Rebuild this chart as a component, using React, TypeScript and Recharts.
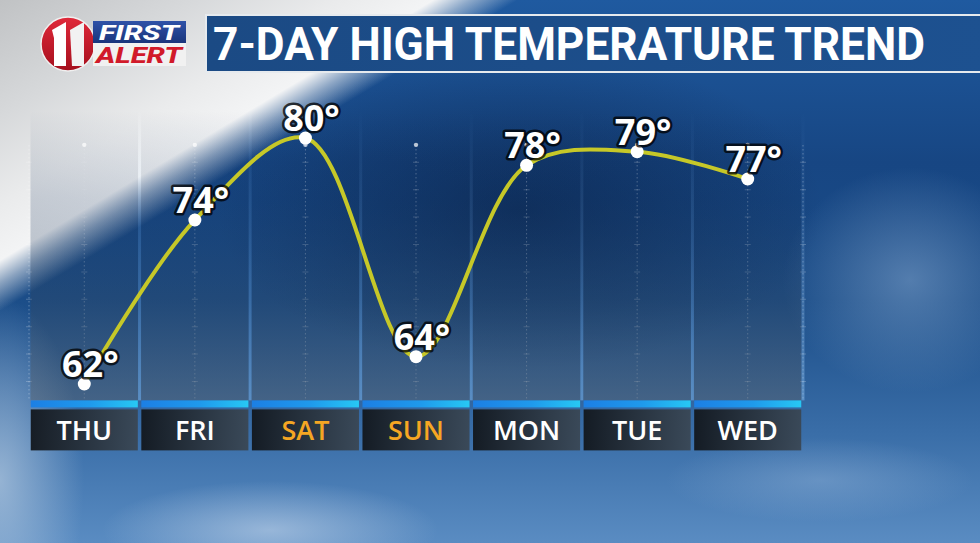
import React from 'react'
import {
  CartesianGrid, ComposedChart, LabelList, Line, ReferenceArea, ReferenceDot, XAxis, YAxis,
} from 'recharts'

const days = ['THU', 'FRI', 'SAT', 'SUN', 'MON', 'TUE', 'WED']
const highs = [62, 74, 80, 64, 78, 79, 77]
const weekendDays = ['SAT', 'SUN']
const yDomain = [60.8, 82]
const gridTopValue = 79.5

const data = days.map((d, i) => ({ day: d, high: highs[i] }))

const W = 980
const H = 543
const PLOT_LEFT = 29
const PLOT_RIGHT = 177
const BAND = (W - PLOT_LEFT - PLOT_RIGHT) / days.length

const BG = [
  'radial-gradient(ellipse 120px 260px at 0px 480px, rgba(175,198,222,0.75), rgba(175,198,222,0) 70%)',
  'radial-gradient(ellipse 240px 70px at 270px 530px, rgba(205,220,238,0.55), rgba(205,220,238,0) 70%)',
  'radial-gradient(ellipse 170px 150px at 910px 280px, rgba(130,165,205,0.55), rgba(130,165,205,0) 75%)',
  'radial-gradient(ellipse 220px 60px at 820px 480px, rgba(150,182,218,0.4), rgba(150,182,218,0) 70%)',
  'linear-gradient(149deg, #c0c2c4 0%, #d6d8da 10%, #eaebec 18%, #f3f4f5 23%, rgba(215,222,230,0.6) 25%, rgba(40,80,140,0) 27.5%)',
  'radial-gradient(ellipse 380px 200px at 520px 210px, rgba(8,28,62,0.55), rgba(8,28,62,0) 80%)',
  'linear-gradient(180deg, #1f5aa0 0%, #174683 30%, #1b4d88 55%, #3a6ea8 80%, #5a8cc2 100%)',
].join(', ')

// centripetal catmull-rom (alpha 0.5), same maths as d3's curveCatmullRom
function catmullRom(context: any) {
  let x0 = NaN, y0 = NaN, x1 = NaN, y1 = NaN, x2 = NaN, y2 = NaN
  let l01a = 0, l12a = 0, l23a = 0, l012a = 0, l122a = 0, l232a = 0, n = 0
  const seg = (x: number, y: number) => {
    let cx1 = x1, cy1 = y1, cx2 = x2, cy2 = y2
    if (l01a > 1e-12) {
      const a = 2 * l012a + 3 * l01a * l12a + l122a
      const nn = 3 * l01a * (l01a + l12a)
      cx1 = (x1 * a - x0 * l122a + x2 * l012a) / nn
      cy1 = (y1 * a - y0 * l122a + y2 * l012a) / nn
    }
    if (l23a > 1e-12) {
      const b = 2 * l232a + 3 * l23a * l12a + l122a
      const m = 3 * l23a * (l23a + l12a)
      cx2 = (x2 * b + x1 * l232a - x * l122a) / m
      cy2 = (y2 * b + y1 * l232a - y * l122a) / m
    }
    context.bezierCurveTo(cx1, cy1, cx2, cy2, x2, y2)
  }
  const pt = (x: number, y: number) => {
    if (n) {
      const dx = x2 - x, dy = y2 - y
      l232a = Math.sqrt(dx * dx + dy * dy)
      l23a = Math.sqrt(l232a)
    }
    if (n === 0) { context.moveTo(x, y); n = 1 }
    else if (n === 1) n = 2
    else { n = 3; seg(x, y) }
    l01a = l12a; l12a = l23a; l012a = l122a; l122a = l232a
    x0 = x1; x1 = x2; x2 = x
    y0 = y1; y1 = y2; y2 = y
  }
  return {
    areaStart() {},
    areaEnd() {},
    lineStart() {
      x0 = x1 = x2 = y0 = y1 = y2 = NaN
      l01a = l12a = l23a = l012a = l122a = l232a = 0
      n = 0
    },
    lineEnd() {
      if (n === 2) context.lineTo(x2, y2)
      else if (n === 3) pt(x2, y2)
    },
    point: pt,
  }
}

function Column({ x, y, width, height }: any) {
  return (
    <g>
      <rect x={x + 1.5} y={y} width={width - 3} height={height} fill="url(#colFill)" />
      <rect x={x + width - 1.5} y={y} width={3} height={height} fill="url(#gapFill)" />
    </g>
  )
}

function DayTick({ x, y, payload }: any) {
  const w = BAND - 3.5
  const left = x - w / 2
  const weekend = weekendDays.includes(payload.value)
  return (
    <g>
      <rect x={left} y={y} width={w} height={7} fill="url(#strip)" />
      <rect x={left} y={y + 9} width={w} height={41} fill="url(#box)" />
      <text
        x={x} y={y + 40} textAnchor="middle"
        fill={weekend ? '#f5a623' : '#ffffff'}
        fontSize={27} fontWeight={600} fontFamily="'Open Sans', sans-serif"
      >
        {payload.value}
      </text>
    </g>
  )
}

function TempLabel({ x, y, value }: any) {
  return (
    <text
      x={x + 6} y={y - 7} textAnchor="middle"
      fill="#ffffff" stroke="#000000" strokeWidth={5} strokeOpacity={0.75}
      strokeLinejoin="round" paintOrder="stroke"
      fontSize={36} fontWeight={700} fontFamily="'Open Sans', sans-serif"
    >
      {`${value}°`}
    </text>
  )
}

function Header() {
  return (
    <svg width={W} height={90} style={{ position: 'absolute', left: 0, top: 0 }}>
      <defs>
        <linearGradient id="logoRed" x1="0" y1="0" x2="0" y2="1">
          <stop offset="0%" stopColor="#e0293a" />
          <stop offset="100%" stopColor="#a50f1d" />
        </linearGradient>
        <linearGradient id="firstBg" x1="0" y1="0" x2="0" y2="1">
          <stop offset="0%" stopColor="#2f52a8" />
          <stop offset="100%" stopColor="#1a357c" />
        </linearGradient>
        <linearGradient id="titleBg" x1="0" y1="0" x2="1" y2="0">
          <stop offset="0%" stopColor="#1b4a84" />
          <stop offset="100%" stopColor="#1d5190" />
        </linearGradient>
      </defs>
      <circle cx={68} cy={44} r={27} fill="url(#logoRed)" stroke="#f0f0f0" strokeWidth={1.5} />
      <path d="M52 30 L66 22 L66 66 L54 66 L54 38 Z" fill="#ffffff" />
      <path d="M70 30 L84 22 L84 66 L72 66 Z" fill="#f2f2f2" />
      <rect x={93} y={21} width={93} height={22} fill="url(#firstBg)" />
      <rect x={93} y={43} width={93} height={23} fill="#f1f1f1" />
      <text x={139} y={40} textAnchor="middle" fill="#ffffff" fontSize={21} fontWeight={800}
        fontStyle="italic" fontFamily="Roboto, sans-serif" textLength={80} lengthAdjust="spacingAndGlyphs">FIRST</text>
      <text x={139} y={63} textAnchor="middle" fill="#d11a2a" fontSize={22} fontWeight={800}
        fontStyle="italic" fontFamily="Roboto, sans-serif" textLength={86} lengthAdjust="spacingAndGlyphs">ALERT</text>
      <rect x={206} y={15} width={780} height={57} fill="url(#titleBg)" stroke="#e6eaee" strokeWidth={2} />
      <text x={213} y={60} fill="#ffffff" fontSize={47} fontWeight={700}
        fontFamily="Roboto, sans-serif" textLength={712} lengthAdjust="spacingAndGlyphs">
        7-DAY HIGH TEMPERATURE TREND
      </text>
    </svg>
  )
}

export default function App() {
  return (
    <div style={{ position: 'absolute', left: 0, top: 0, width: W, height: H, overflow: 'hidden', background: BG }}>
      <Header />
      <ComposedChart
        width={W} height={H} data={data}
        margin={{ top: 110.7, right: PLOT_RIGHT, left: PLOT_LEFT, bottom: 92.6 }}
        style={{ position: 'absolute', left: 0, top: 0 }}
      >
        <defs>
          <linearGradient id="colFill" x1="0" y1="0" x2="0" y2="1">
            <stop offset="0%" stopColor="#0c2a55" stopOpacity={0} />
            <stop offset="30%" stopColor="#0c2a55" stopOpacity={0.18} />
            <stop offset="70%" stopColor="#33455a" stopOpacity={0.35} />
            <stop offset="100%" stopColor="#55606c" stopOpacity={0.5} />
          </linearGradient>
          <linearGradient id="gapFill" x1="0" y1="0" x2="0" y2="1">
            <stop offset="0%" stopColor="#7fb2e8" stopOpacity={0} />
            <stop offset="40%" stopColor="#7fb2e8" stopOpacity={0.15} />
            <stop offset="100%" stopColor="#8cc0f0" stopOpacity={0.45} />
          </linearGradient>
          <linearGradient id="strip" x1="0" y1="0" x2="1" y2="0">
            <stop offset="0%" stopColor="#1c7fe4" />
            <stop offset="55%" stopColor="#1f9aec" />
            <stop offset="100%" stopColor="#27c8f4" />
          </linearGradient>
          <linearGradient id="box" x1="0" y1="0" x2="1" y2="0">
            <stop offset="0%" stopColor="#12171d" stopOpacity={0.95} />
            <stop offset="100%" stopColor="#3a4550" stopOpacity={0.9} />
          </linearGradient>
        </defs>
        {days.map((d) => (
          <ReferenceArea key={d} x1={d} x2={d} y1={yDomain[0]} y2={yDomain[1]} shape={(p: any) => <Column {...p} />} />
        ))}
        <CartesianGrid horizontal={false} y={145} height={255} stroke="rgba(255,255,255,0.3)" strokeDasharray="1.5 2.5" />
        <CartesianGrid horizontal={false} y={145} height={255} stroke="rgba(255,255,255,0.22)" strokeWidth={6}
          strokeDasharray="1 26.4" strokeDashoffset={10.6} />
        <XAxis
          dataKey="day" type="category" scale="band" height={50} axisLine={false} tickLine={false}
          tickSize={0} tickMargin={0} interval={0} tick={<DayTick />}
        />
        <YAxis hide type="number" domain={yDomain} />
        {days.map((d) => (
          <ReferenceDot key={d} x={d} y={gridTopValue} r={2.2} fill="rgba(255,255,255,0.7)" stroke="none" />
        ))}
        <Line
          dataKey="high" type={catmullRom as any} stroke="#c6c828" strokeWidth={4}
          dot={{ r: 6.5, fill: '#ffffff', stroke: 'none' }} activeDot={false} isAnimationActive={false}
        >
          <LabelList dataKey="high" content={<TempLabel />} />
        </Line>
      </ComposedChart>
    </div>
  )
}
